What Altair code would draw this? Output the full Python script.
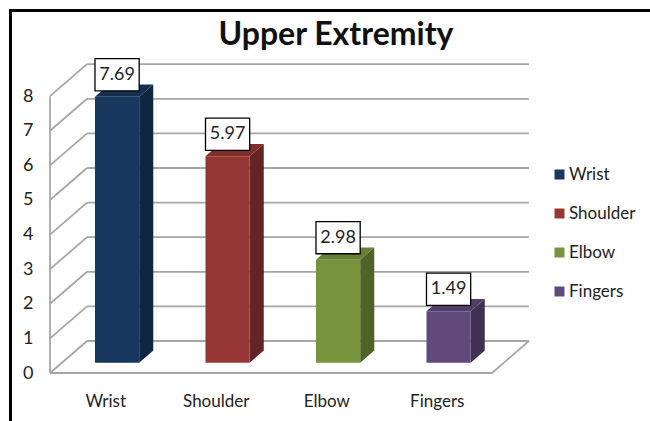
import altair as alt
import pandas as pd

# Chart values
categories = ["Wrist", "Shoulder", "Elbow", "Fingers"]
values = [7.69, 5.97, 2.98, 1.49]
front_colors = ["#17375E", "#953735", "#77933C", "#604A7B"]
side_colors = ["#10253F", "#632523", "#4F6228", "#403152"]
top_colors = ["#14304F", "#7F2E2C", "#667F33", "#513E69"]
y_ticks = list(range(0, 9))
slot_centres = [0.5, 1.5, 2.5, 3.5]

FONT = "Lato"
GRID = "#A6A6A6"

# Oblique projection: one unit of depth shifts a point right (slots) and up (value units)
DEPTH_X = 0.335
DEPTH_Y = 0.925
BAR_FRONT = 0.32
BAR_BACK = 0.70
BAR_HALF = 0.2

x_scale = alt.Scale(domain=[0, 4.344], nice=False, zero=False)
y_scale = alt.Scale(domain=[0, 8.93], nice=False, zero=False)

x_axis = alt.Axis(values=slot_centres, title=None, grid=False, domain=False, ticks=False,
                  labelExpr="['Wrist','Shoulder','Elbow','Fingers'][floor(datum.value)]",
                  labelFont=FONT, labelFontSize=17, labelColor="#222222", labelPadding=20,
                  labelOverlap=False)
y_axis = alt.Axis(values=y_ticks, title=None, grid=False, domain=False, ticks=False,
                  labelFont=FONT, labelFontSize=18, labelColor="#222222", labelPadding=17,
                  labelBaseline="middle", labelOverlap=False, labelSeparation=0,
                  format="d")


def pos_x(field):
    return alt.X(field, scale=x_scale, axis=x_axis)


def pos_y(field):
    return alt.Y(field, scale=y_scale, axis=y_axis)


def project(slot, value, depth):
    return slot + depth * DEPTH_X, value + depth * DEPTH_Y


# Wall and floor lines of the 3D box
grid_rows = []
for v in y_ticks:
    x0, y0 = project(0, v, 0)
    x1, y1 = project(0, v, 1)
    x2, y2 = project(4, v, 1)
    grid_rows.append(dict(x=x0, y=y0, x2=x1, y2=y1))
    grid_rows.append(dict(x=x1, y=y1, x2=x2, y2=y2))
grid_rows.append(dict(x=0, y=0, x2=0, y2=8))
grid_rows.append(dict(x=0, y=0, x2=4, y2=0))
grid_rows.append(dict(x=4, y=0, x2=project(4, 0, 1)[0], y2=project(4, 0, 1)[1]))

grid = alt.Chart(pd.DataFrame(grid_rows)).mark_rule(color=GRID, strokeWidth=1.8).encode(
    x=pos_x("x:Q"), y=pos_y("y:Q"), x2="x2:Q", y2="y2:Q",
)

layers = [grid]
front_rows = []
label_rows = []

for i, (name, val) in enumerate(zip(categories, values)):
    left, base = project(i + 0.5 - BAR_HALF, 0, BAR_FRONT)
    right, _ = project(i + 0.5 + BAR_HALF, 0, BAR_FRONT)
    shift_x = (BAR_BACK - BAR_FRONT) * DEPTH_X
    shift_y = (BAR_BACK - BAR_FRONT) * DEPTH_Y
    top = base + val

    front_rows.append(dict(category=name, x=left, x2=right, y=base, y2=top))
    label_rows.append(dict(category=name, value=val, x=left, x2=right,
                           y=top + 0.17, y2=top + 1.1,
                           xc=(left + right) / 2, yc=top + 0.635))

    side = pd.DataFrame([
        dict(x=right, y=base, y2=top),
        dict(x=right + shift_x, y=base + shift_y, y2=top + shift_y),
    ])
    layers.append(alt.Chart(side).mark_area(color=side_colors[i], opacity=1).encode(
        x=pos_x("x:Q"), y=pos_y("y:Q"), y2="y2:Q"))

    cap = pd.DataFrame([
        dict(y=top, x=left, x2=right),
        dict(y=top + shift_y, x=left + shift_x, x2=right + shift_x),
    ])
    layers.append(alt.Chart(cap).mark_area(color=top_colors[i], opacity=1, orient="horizontal").encode(
        y=pos_y("y:Q"), x=pos_x("x:Q"), x2="x2:Q"))

front = alt.Chart(pd.DataFrame(front_rows)).mark_rect().encode(
    x=pos_x("x:Q"),
    x2="x2:Q",
    y=pos_y("y:Q"),
    y2="y2:Q",
    color=alt.Color(
        "category:N",
        scale=alt.Scale(domain=categories, range=front_colors),
        sort=categories,
        legend=alt.Legend(
            title=None, orient="none", legendX=501, legendY=102,
            symbolType="square", symbolSize=100, symbolStrokeWidth=0,
            labelFont=FONT, labelFontSize=17, labelColor="#222222",
            rowPadding=21, labelOffset=1,
        ),
    ),
)
layers.append(front)

labels = pd.DataFrame(label_rows)
boxes = alt.Chart(labels).mark_rect(fill="white", stroke="black", strokeWidth=1.3).encode(
    x=pos_x("x:Q"), x2="x2:Q",
    y=pos_y("y:Q"), y2="y2:Q",
)
box_text = alt.Chart(labels).mark_text(font=FONT, fontSize=18, color="#222222").encode(
    x=pos_x("xc:Q"),
    y=pos_y("yc:Q"),
    text=alt.Text("value:Q", format=".2f"),
)
layers += [boxes, box_text]

# Black frame along the top and left edges
frame_top = alt.Chart(pd.DataFrame({"a": [0]})).mark_rule(color="black", strokeWidth=3).encode(
    x=alt.value(-41), x2=alt.value(600), y=alt.value(-53.5))
frame_left = alt.Chart(pd.DataFrame({"a": [0]})).mark_rule(color="black", strokeWidth=3).encode(
    x=alt.value(-39.5), y=alt.value(-55), y2=alt.value(357))
layers += [frame_top, frame_left]

chart = alt.layer(*layers).properties(
    width=480,
    height=309,
    padding={"left": 50, "top": 64, "right": 120, "bottom": 48},
    autosize=alt.AutoSizeParams(type="none"),
    background="white",
    title=alt.TitleParams(
        "Upper Extremity", font=FONT, fontSize=32, fontWeight="bold", color="#111111",
        anchor="middle", dx=46, dy=44, offset=0,
    ),
).configure_view(stroke=None)

chart.save("out.html", embed_options={"renderer": "svg", "actions": False})
